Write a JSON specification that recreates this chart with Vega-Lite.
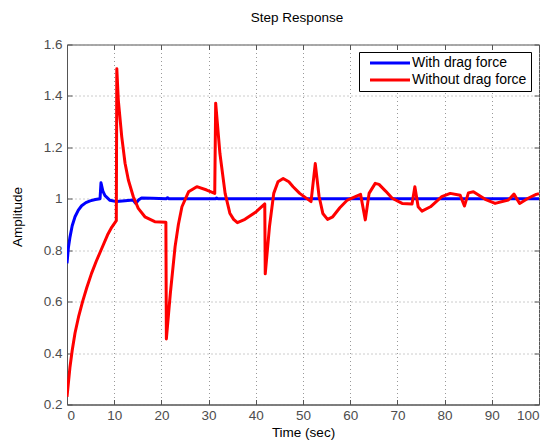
{
  "$schema": "https://vega.github.io/schema/vega-lite/v6.json",
  "width": 472,
  "height": 360,
  "autosize": {"type": "none"},
  "padding": {"left": 67, "top": 44.5, "right": 10, "bottom": 38.5},
  "background": "white",
  "title": {"text": "Step Response", "fontSize": 13.5, "fontWeight": "normal", "font": "Liberation Sans", "color": "#000", "baseline": "alphabetic", "offset": 2.5, "dx": -6},
  "config": {
    "view": {"stroke": "#555", "strokeWidth": 1},
    "font": "Liberation Sans"
  },
  "datasets": {
    "curves": [
      {"t": 0, "y": 0.749, "s": "With drag force"},
      {"t": 0.3, "y": 0.81, "s": "With drag force"},
      {"t": 0.64, "y": 0.852, "s": "With drag force"},
      {"t": 1.1, "y": 0.895, "s": "With drag force"},
      {"t": 1.7, "y": 0.93, "s": "With drag force"},
      {"t": 2.4, "y": 0.956, "s": "With drag force"},
      {"t": 3.1, "y": 0.973, "s": "With drag force"},
      {"t": 4.0, "y": 0.985, "s": "With drag force"},
      {"t": 4.9, "y": 0.992, "s": "With drag force"},
      {"t": 6.0, "y": 0.997, "s": "With drag force"},
      {"t": 7.0, "y": 1.0, "s": "With drag force"},
      {"t": 7.2, "y": 1.062, "s": "With drag force"},
      {"t": 7.6, "y": 1.03, "s": "With drag force"},
      {"t": 8.05, "y": 1.012, "s": "With drag force"},
      {"t": 9.1, "y": 0.994, "s": "With drag force"},
      {"t": 10.5, "y": 0.989, "s": "With drag force"},
      {"t": 12.3, "y": 0.992, "s": "With drag force"},
      {"t": 14.0, "y": 0.995, "s": "With drag force"},
      {"t": 14.55, "y": 0.982, "s": "With drag force"},
      {"t": 15.2, "y": 0.996, "s": "With drag force"},
      {"t": 15.8, "y": 1.003, "s": "With drag force"},
      {"t": 18, "y": 1.002, "s": "With drag force"},
      {"t": 21, "y": 1.0, "s": "With drag force"},
      {"t": 21.3, "y": 1.004, "s": "With drag force"},
      {"t": 21.6, "y": 1.0, "s": "With drag force"},
      {"t": 31.5, "y": 1.0, "s": "With drag force"},
      {"t": 31.7, "y": 1.003, "s": "With drag force"},
      {"t": 32, "y": 1.0, "s": "With drag force"},
      {"t": 60, "y": 1.0, "s": "With drag force"},
      {"t": 100, "y": 1.0, "s": "With drag force"},
      {"t": 0, "y": 0.23, "s": "Without drag force"},
      {"t": 0.64, "y": 0.347, "s": "Without drag force"},
      {"t": 1.1, "y": 0.41, "s": "Without drag force"},
      {"t": 1.7, "y": 0.478, "s": "Without drag force"},
      {"t": 2.5, "y": 0.545, "s": "Without drag force"},
      {"t": 3.3, "y": 0.6, "s": "Without drag force"},
      {"t": 4.2, "y": 0.655, "s": "Without drag force"},
      {"t": 5.2, "y": 0.71, "s": "Without drag force"},
      {"t": 6.2, "y": 0.757, "s": "Without drag force"},
      {"t": 7.2, "y": 0.8, "s": "Without drag force"},
      {"t": 8.6, "y": 0.86, "s": "Without drag force"},
      {"t": 9.5, "y": 0.89, "s": "Without drag force"},
      {"t": 10.45, "y": 0.915, "s": "Without drag force"},
      {"t": 10.55, "y": 1.506, "s": "Without drag force"},
      {"t": 10.87, "y": 1.384, "s": "Without drag force"},
      {"t": 11.6, "y": 1.241, "s": "Without drag force"},
      {"t": 12.3, "y": 1.138, "s": "Without drag force"},
      {"t": 13.0, "y": 1.073, "s": "Without drag force"},
      {"t": 14.05, "y": 1.008, "s": "Without drag force"},
      {"t": 15.1, "y": 0.963, "s": "Without drag force"},
      {"t": 16.5, "y": 0.93, "s": "Without drag force"},
      {"t": 18.6, "y": 0.911, "s": "Without drag force"},
      {"t": 20.95, "y": 0.909, "s": "Without drag force"},
      {"t": 21.05, "y": 0.455, "s": "Without drag force"},
      {"t": 21.5, "y": 0.55, "s": "Without drag force"},
      {"t": 21.9, "y": 0.633, "s": "Without drag force"},
      {"t": 22.9, "y": 0.814, "s": "Without drag force"},
      {"t": 23.6, "y": 0.9, "s": "Without drag force"},
      {"t": 24.35, "y": 0.969, "s": "Without drag force"},
      {"t": 25.75, "y": 1.027, "s": "Without drag force"},
      {"t": 27.5, "y": 1.047, "s": "Without drag force"},
      {"t": 29.6, "y": 1.034, "s": "Without drag force"},
      {"t": 31.3, "y": 1.021, "s": "Without drag force"},
      {"t": 31.5, "y": 1.372, "s": "Without drag force"},
      {"t": 32.4, "y": 1.176, "s": "Without drag force"},
      {"t": 33.5, "y": 1.021, "s": "Without drag force"},
      {"t": 34.5, "y": 0.944, "s": "Without drag force"},
      {"t": 35.3, "y": 0.92, "s": "Without drag force"},
      {"t": 36.1, "y": 0.907, "s": "Without drag force"},
      {"t": 37.7, "y": 0.92, "s": "Without drag force"},
      {"t": 40.1, "y": 0.95, "s": "Without drag force"},
      {"t": 41.9, "y": 0.98, "s": "Without drag force"},
      {"t": 42.0, "y": 0.708, "s": "Without drag force"},
      {"t": 42.9, "y": 0.892, "s": "Without drag force"},
      {"t": 43.8, "y": 1.021, "s": "Without drag force"},
      {"t": 44.7, "y": 1.066, "s": "Without drag force"},
      {"t": 45.8, "y": 1.079, "s": "Without drag force"},
      {"t": 47, "y": 1.066, "s": "Without drag force"},
      {"t": 47.9, "y": 1.047, "s": "Without drag force"},
      {"t": 49.3, "y": 1.021, "s": "Without drag force"},
      {"t": 51.7, "y": 0.989, "s": "Without drag force"},
      {"t": 52.6, "y": 1.137, "s": "Without drag force"},
      {"t": 53.4, "y": 1.01, "s": "Without drag force"},
      {"t": 54.2, "y": 0.943, "s": "Without drag force"},
      {"t": 55.2, "y": 0.92, "s": "Without drag force"},
      {"t": 56.3, "y": 0.93, "s": "Without drag force"},
      {"t": 57.8, "y": 0.965, "s": "Without drag force"},
      {"t": 59.4, "y": 0.995, "s": "Without drag force"},
      {"t": 62.2, "y": 1.017, "s": "Without drag force"},
      {"t": 63.2, "y": 0.918, "s": "Without drag force"},
      {"t": 64, "y": 1.021, "s": "Without drag force"},
      {"t": 65.3, "y": 1.06, "s": "Without drag force"},
      {"t": 66.1, "y": 1.056, "s": "Without drag force"},
      {"t": 67.5, "y": 1.03, "s": "Without drag force"},
      {"t": 68.9, "y": 1.002, "s": "Without drag force"},
      {"t": 71, "y": 0.982, "s": "Without drag force"},
      {"t": 73.1, "y": 0.98, "s": "Without drag force"},
      {"t": 73.7, "y": 1.047, "s": "Without drag force"},
      {"t": 74.4, "y": 0.969, "s": "Without drag force"},
      {"t": 75.2, "y": 0.952, "s": "Without drag force"},
      {"t": 77, "y": 0.969, "s": "Without drag force"},
      {"t": 79.4, "y": 1.008, "s": "Without drag force"},
      {"t": 81.2, "y": 1.021, "s": "Without drag force"},
      {"t": 83.3, "y": 1.014, "s": "Without drag force"},
      {"t": 84.2, "y": 0.972, "s": "Without drag force"},
      {"t": 85.05, "y": 1.023, "s": "Without drag force"},
      {"t": 86.1, "y": 1.027, "s": "Without drag force"},
      {"t": 88.6, "y": 0.998, "s": "Without drag force"},
      {"t": 90.7, "y": 0.982, "s": "Without drag force"},
      {"t": 93.5, "y": 0.995, "s": "Without drag force"},
      {"t": 94.7, "y": 1.018, "s": "Without drag force"},
      {"t": 95.9, "y": 0.982, "s": "Without drag force"},
      {"t": 97.7, "y": 1.002, "s": "Without drag force"},
      {"t": 99.4, "y": 1.017, "s": "Without drag force"},
      {"t": 100, "y": 1.02, "s": "Without drag force"}
    ]
  },
  "data": {"name": "curves"},
  "resolve": {"axis": {"x": "independent", "y": "independent"}},
  "layer": [
    {
      "mark": {"type": "line", "strokeWidth": 3, "clip": true, "strokeJoin": "round"},
      "encoding": {
        "x": {
          "field": "t", "type": "quantitative",
          "scale": {"domain": [0, 100], "nice": false, "zero": false},
          "axis": {
            "values": [0, 10, 20, 30, 40, 50, 60, 70, 80, 90, 100],
            "title": "Time (sec)", "titleFontSize": 13.5, "titleFontWeight": "normal", "titleColor": "#000",
            "titleBaseline": "alphabetic", "titleY": 32,
            "labelFontSize": 13.5, "labelColor": "#4d4d4d", "labelPadding": 9,
            "domainColor": "#555", "tickColor": "#555", "tickSize": -5,
            "grid": true, "gridColor": "#999", "gridDash": [1, 3], "gridWidth": 1
          }
        },
        "y": {
          "field": "y", "type": "quantitative",
          "scale": {"domain": [0.2, 1.6], "nice": false, "zero": false},
          "axis": {
            "values": [0.2, 0.4, 0.6, 0.8, 1, 1.2, 1.4, 1.6],
            "labelExpr": "datum.value == 1 ? '1' : format(datum.value, '.1f')",
            "title": "Amplitude", "titleFontSize": 13.5, "titleFontWeight": "normal", "titleColor": "#000",
            "titleBaseline": "alphabetic", "titleX": -46, "titleY": 172,
            "labelFontSize": 13.5, "labelColor": "#4d4d4d", "labelPadding": 10,
            "domainColor": "#555", "tickColor": "#555", "tickSize": -5,
            "grid": true, "gridColor": "#999", "gridDash": [1, 3], "gridWidth": 1
          }
        },
        "color": {
          "field": "s", "type": "nominal",
          "scale": {"domain": ["With drag force", "Without drag force"], "range": ["#0000ff", "#ff0000"]},
          "legend": {
            "title": null, "orient": "none", "legendX": 292, "legendY": 7.5,
            "symbolType": "M0,0H8", "symbolSize": 100, "symbolStrokeWidth": 3,
            "labelFontSize": 14, "labelColor": "#000", "labelOffset": 35,
            "rowPadding": 3, "padding": 4,
            "strokeColor": "#000", "fillColor": "#fff",
            "offset": 0
          }
        }
      }
    },
    {
      "mark": {"type": "line", "opacity": 0},
      "encoding": {
        "x": {
          "field": "t", "type": "quantitative",
          "axis": {"orient": "top", "values": [0, 10, 20, 30, 40, 50, 60, 70, 80, 90, 100], "labels": false, "title": null, "domain": false, "grid": false, "tickColor": "#555", "tickSize": -5}
        },
        "y": {
          "field": "y", "type": "quantitative",
          "axis": {"orient": "right", "values": [0.2, 0.4, 0.6, 0.8, 1, 1.2, 1.4, 1.6], "labels": false, "title": null, "domain": false, "grid": false, "tickColor": "#555", "tickSize": -5}
        },
        "detail": {"field": "s"}
      }
    }
  ]
}
